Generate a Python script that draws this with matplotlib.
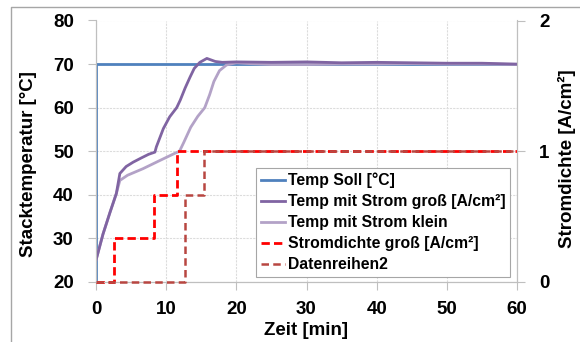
import matplotlib.pyplot as plt
from matplotlib.lines import Line2D

plt.rcParams['font.family'] = ['Liberation Sans', 'DejaVu Sans']
plt.rcParams['font.weight'] = 'bold'

# Solltemperatur
t_soll = [0, 0, 60]
temp_soll = [20, 70, 70]

# Stacktemperatur mit Strom gross
t_gross = [0, 1, 2, 2.9, 3.4, 4.3, 5.3, 6.5, 7.5, 8.4, 8.6, 9.6, 10.5, 11.5, 12.0, 12.7, 13.4,
           14.0, 14.8, 15.8, 17.0, 18.0, 20, 25, 30, 35, 40, 45, 50, 55, 60]
temp_gross = [25, 31, 36, 40.3, 44.9, 46.5, 47.5, 48.5, 49.3, 49.8, 51, 55.2, 57.9, 60, 61.7, 64.5, 67,
              69, 70.4, 71.3, 70.6, 70.4, 70.5, 70.4, 70.5, 70.3, 70.4, 70.3, 70.2, 70.2, 70.0]

# Stacktemperatur mit Strom klein
t_klein = [0, 1, 2, 2.9, 3.4, 4.5, 6.7, 9.0, 11.2, 11.9, 12.5, 13.5, 14.5, 15.5, 16.2, 16.8,
           17.6, 18.6, 20, 22, 25, 30, 35, 40, 45, 50, 55, 60]
temp_klein = [25, 31, 36, 40.3, 43.3, 44.5, 46, 47.8, 49.5, 50, 52, 55.5, 58, 60, 63, 66,
              68.5, 69.8, 70.3, 70.1, 69.9, 69.9, 70.0, 70.0, 70.1, 70.0, 70.0, 69.9]

# Stromdichte (Treppenstufen)
t_dichte_gross = [0, 2.6, 8.3, 11.6, 60]
dichte_gross = [0, 0.333, 0.667, 1, 1]
t_dichte_2 = [0, 12.7, 15.4, 60]
dichte_2 = [0, 0.667, 1, 1]

fig = plt.figure(figsize=(5.8, 3.42), dpi=100)
ax = fig.add_axes([96 / 580, 1 - 282 / 342, 421 / 580, 261.5 / 342])
ax2 = ax.twinx()

grid_c = '#dcdcdc'
spine_c = '#bfbfbf'

l1, = ax.plot(t_soll, temp_soll, color='#4f81bd', lw=2, label='Temp Soll [°C]', zorder=3)
l2, = ax.plot(t_gross, temp_gross, color='#8064a2', lw=2, label='Temp mit Strom groß [A/cm²]', zorder=4)
l3, = ax.plot(t_klein, temp_klein, color='#b3a2c7', lw=2, label='Temp mit Strom klein', zorder=3)

l4, = ax2.plot(t_dichte_gross, dichte_gross, drawstyle='steps-post', color='#ff0000', lw=2,
               dashes=(3, 1.5), label='Stromdichte groß [A/cm²]', clip_on=False, zorder=2)
l5, = ax2.plot(t_dichte_2, dichte_2, drawstyle='steps-post', color='#b84641', lw=1.8,
               dashes=(3, 1.7), label='Datenreihen2', clip_on=False, zorder=3)

ax.set_xlim(0, 60)
ax.set_ylim(20, 80)
ax2.set_ylim(0, 2)
ax.set_xticks(range(0, 61, 10))
ax.set_yticks(range(20, 81, 10))
ax2.set_yticks([0, 1, 2])

ax.grid(True, color=grid_c, lw=0.8, linestyle=(0, (2, 1)))
ax.set_axisbelow(True)

for a in (ax, ax2):
    a.spines['top'].set_visible(False)
    for s in ('left', 'right', 'bottom'):
        a.spines[s].set_color(spine_c)
ax.tick_params(axis='both', colors=spine_c, length=6, width=0.8, labelsize=13.5, labelcolor='black')
ax.tick_params(axis='y', pad=10)
ax.tick_params(axis='x', pad=8)
ax2.tick_params(axis='y', colors=spine_c, length=6, width=0.8, labelsize=13.5, labelcolor='black', pad=10)
for lab in ax.get_xticklabels() + ax.get_yticklabels() + ax2.get_yticklabels():
    lab.set_fontweight('bold')

ax.set_xlabel('Zeit [min]', fontsize=13.5, fontweight='bold')
ax.set_ylabel('Stacktemperatur [°C]', fontsize=13.5, fontweight='bold')
ax2.set_ylabel('Stromdichte [A/cm²]', fontsize=13.5, fontweight='bold')
ax.xaxis.label.set_va('center')
ax.yaxis.label.set_va('center')
ax2.yaxis.label.set_va('center')
ax.xaxis.set_label_coords(0.5, -0.185)
ax.yaxis.set_label_coords(-0.1615, 0.451)
ax2.yaxis.set_label_coords(1.119, 0.472)

leg = ax2.legend(handles=[l1, l2, l3, l4, l5], loc='upper right', bbox_to_anchor=(0.983, 0.436),
                 borderaxespad=0, prop={'weight': 'bold', 'size': 11.3},
                 handlelength=1.55, handletextpad=0.15, labelspacing=0.38, fancybox=False,
                 framealpha=1, edgecolor='#a6a6a6', borderpad=0.3)
leg.get_frame().set_linewidth(0.8)
leg.set_zorder(10)

# Rahmen um das Diagramm
fig.add_artist(Line2D([11 / 580, 11 / 580, 1], [0, 1 - 6.5 / 342, 1 - 6.5 / 342],
                      transform=fig.transFigure, color='#a6a6a6', lw=1))

fig.savefig('out.png', dpi=100)
